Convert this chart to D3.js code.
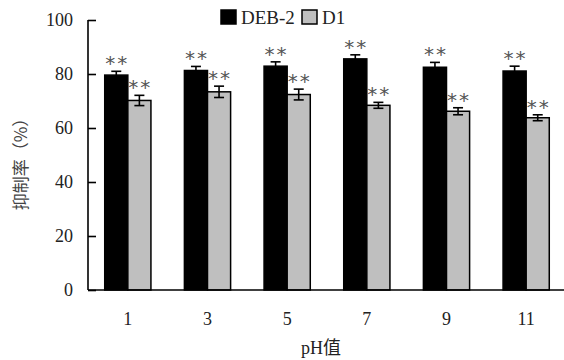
<!DOCTYPE html>
<html>
<head>
<meta charset="utf-8">
<script src="https://cdn.jsdelivr.net/npm/d3@7"></script>
<style>
  body { margin: 0; background: #fff; }
  svg { display: block; }
</style>
</head>
<body>
<div id="chart"></div>
<script>
// pH values (categories)
const phLabels = ["1", "3", "5", "7", "9", "11"];
const seriesNames = ["DEB-2", "D1"];
// inhibition rate (%)
const deb2Values = [79.6, 81.3, 82.9, 85.6, 82.5, 81.1];
const deb2Errors = [1.4, 1.5, 1.6, 1.5, 1.8, 1.8];
const d1Values = [70.2, 73.4, 72.4, 68.4, 66.2, 63.8];
const d1Errors = [1.9, 2.1, 2.0, 1.1, 1.3, 1.1];
const yTicks = [0, 20, 40, 60, 80, 100];
const colors = { "DEB-2": "#000000", "D1": "#bfbfbf" };

const width = 564, height = 360;
const margin = { top: 20, right: 0, bottom: 70, left: 88 };

const svg = d3.select("#chart").append("svg")
    .attr("width", width)
    .attr("height", height);

// x scales: groups and bars inside group
let x0 = d3.scaleBand()
    .domain(phLabels)
    .range([margin.left, 566])
    .paddingInner(0.42)
    .paddingOuter(0.21);

let x1 = d3.scaleBand()
    .domain(seriesNames)
    .range([0, x0.bandwidth()]);

let y = d3.scaleLinear()
    .domain([0, 100])
    .range([height - margin.bottom, margin.top]);

// build rows from the arrays
const rows = phLabels.map((ph, i) => ({
    ph: ph,
    bars: [
        { name: "DEB-2", value: deb2Values[i], err: deb2Errors[i] },
        { name: "D1", value: d1Values[i], err: d1Errors[i] }
    ]
}));

const groups = svg.append("g")
    .selectAll("g")
    .data(rows)
    .join("g")
    .attr("transform", d => `translate(${x0(d.ph)},0)`);

// bars
groups.selectAll("rect")
    .data(d => d.bars)
    .join("rect")
    .attr("x", d => x1(d.name))
    .attr("y", d => y(d.value))
    .attr("width", x1.bandwidth())
    .attr("height", d => y(0) - y(d.value))
    .attr("fill", d => colors[d.name])
    .attr("stroke", "#000")
    .attr("stroke-width", 1.5);

// error bars
const capW = 5;
const eb = groups.selectAll("g.err")
    .data(d => d.bars)
    .join("g")
    .attr("class", "err")
    .attr("stroke", "#000")
    .attr("stroke-width", 1.6);

eb.append("line")
    .attr("x1", d => x1(d.name) + x1.bandwidth() / 2)
    .attr("x2", d => x1(d.name) + x1.bandwidth() / 2)
    .attr("y1", d => y(d.value - d.err))
    .attr("y2", d => y(d.value + d.err));
eb.append("line")
    .attr("x1", d => x1(d.name) + x1.bandwidth() / 2 - capW)
    .attr("x2", d => x1(d.name) + x1.bandwidth() / 2 + capW)
    .attr("y1", d => y(d.value + d.err))
    .attr("y2", d => y(d.value + d.err));
eb.append("line")
    .attr("x1", d => x1(d.name) + x1.bandwidth() / 2 - capW)
    .attr("x2", d => x1(d.name) + x1.bandwidth() / 2 + capW)
    .attr("y1", d => y(d.value - d.err))
    .attr("y2", d => y(d.value - d.err));

// significance marks
groups.selectAll("text.sig")
    .data(d => d.bars)
    .join("text")
    .attr("class", "sig")
    .attr("x", d => x1(d.name) + x1.bandwidth() / 2)
    .attr("y", d => y(d.value + d.err) - 1)
    .attr("text-anchor", "middle")
    .attr("font-family", "'DejaVu Sans Mono', monospace")
    .attr("font-size", 20)
    .attr("fill", "#555")
    .text("**");

// y axis
const yAxis = svg.append("g")
    .attr("transform", `translate(${margin.left},0)`)
    .call(d3.axisRight(y).tickValues(yTicks).tickSize(8).tickFormat(d3.format("d")));
yAxis.select(".domain").attr("stroke-width", 1.6).attr("d", `M0,${y(100)}V${y(0)}`);
yAxis.selectAll(".tick line").attr("stroke-width", 1.6);
yAxis.selectAll(".tick text")
    .attr("x", -15)
    .attr("text-anchor", "end")
    .attr("font-family", "'Liberation Serif', serif")
    .attr("font-size", 18)
    .attr("fill", "#222");

// x axis (no tick marks)
const xAxis = svg.append("g")
    .attr("transform", `translate(0,${y(0)})`)
    .call(d3.axisBottom(x0).tickSize(0).tickPadding(22));
xAxis.select(".domain").attr("stroke-width", 1.6).attr("d", `M${margin.left},0H${width}`);
xAxis.selectAll(".tick text")
    .attr("font-family", "'Liberation Serif', serif")
    .attr("font-size", 18)
    .attr("fill", "#222");

// axis titles
svg.append("text")
    .attr("x", 321)
    .attr("y", 354)
    .attr("text-anchor", "middle")
    .attr("font-family", "'Liberation Serif', 'Noto Sans CJK SC', serif")
    .attr("font-size", 18)
    .attr("fill", "#222")
    .text("pH值");

svg.append("text")
    .attr("transform", "translate(27,160) rotate(-90)")
    .attr("text-anchor", "middle")
    .attr("font-family", "'Noto Sans CJK SC', sans-serif")
    .attr("font-size", 17)
    .attr("fill", "#444")
    .text("抑制率（%）");

// legend
const legendX = [221, 302];
const legend = svg.append("g")
    .selectAll("g")
    .data(seriesNames)
    .join("g")
    .attr("transform", (d, i) => `translate(${legendX[i]},10)`);

legend.append("rect")
    .attr("width", 15)
    .attr("height", 14)
    .attr("fill", d => colors[d])
    .attr("stroke", "#000")
    .attr("stroke-width", 1.5);

legend.append("text")
    .attr("x", 20)
    .attr("y", 14)
    .attr("font-family", "'Liberation Serif', serif")
    .attr("font-size", 19)
    .attr("fill", "#222")
    .text(d => d);
</script>
</body>
</html>
